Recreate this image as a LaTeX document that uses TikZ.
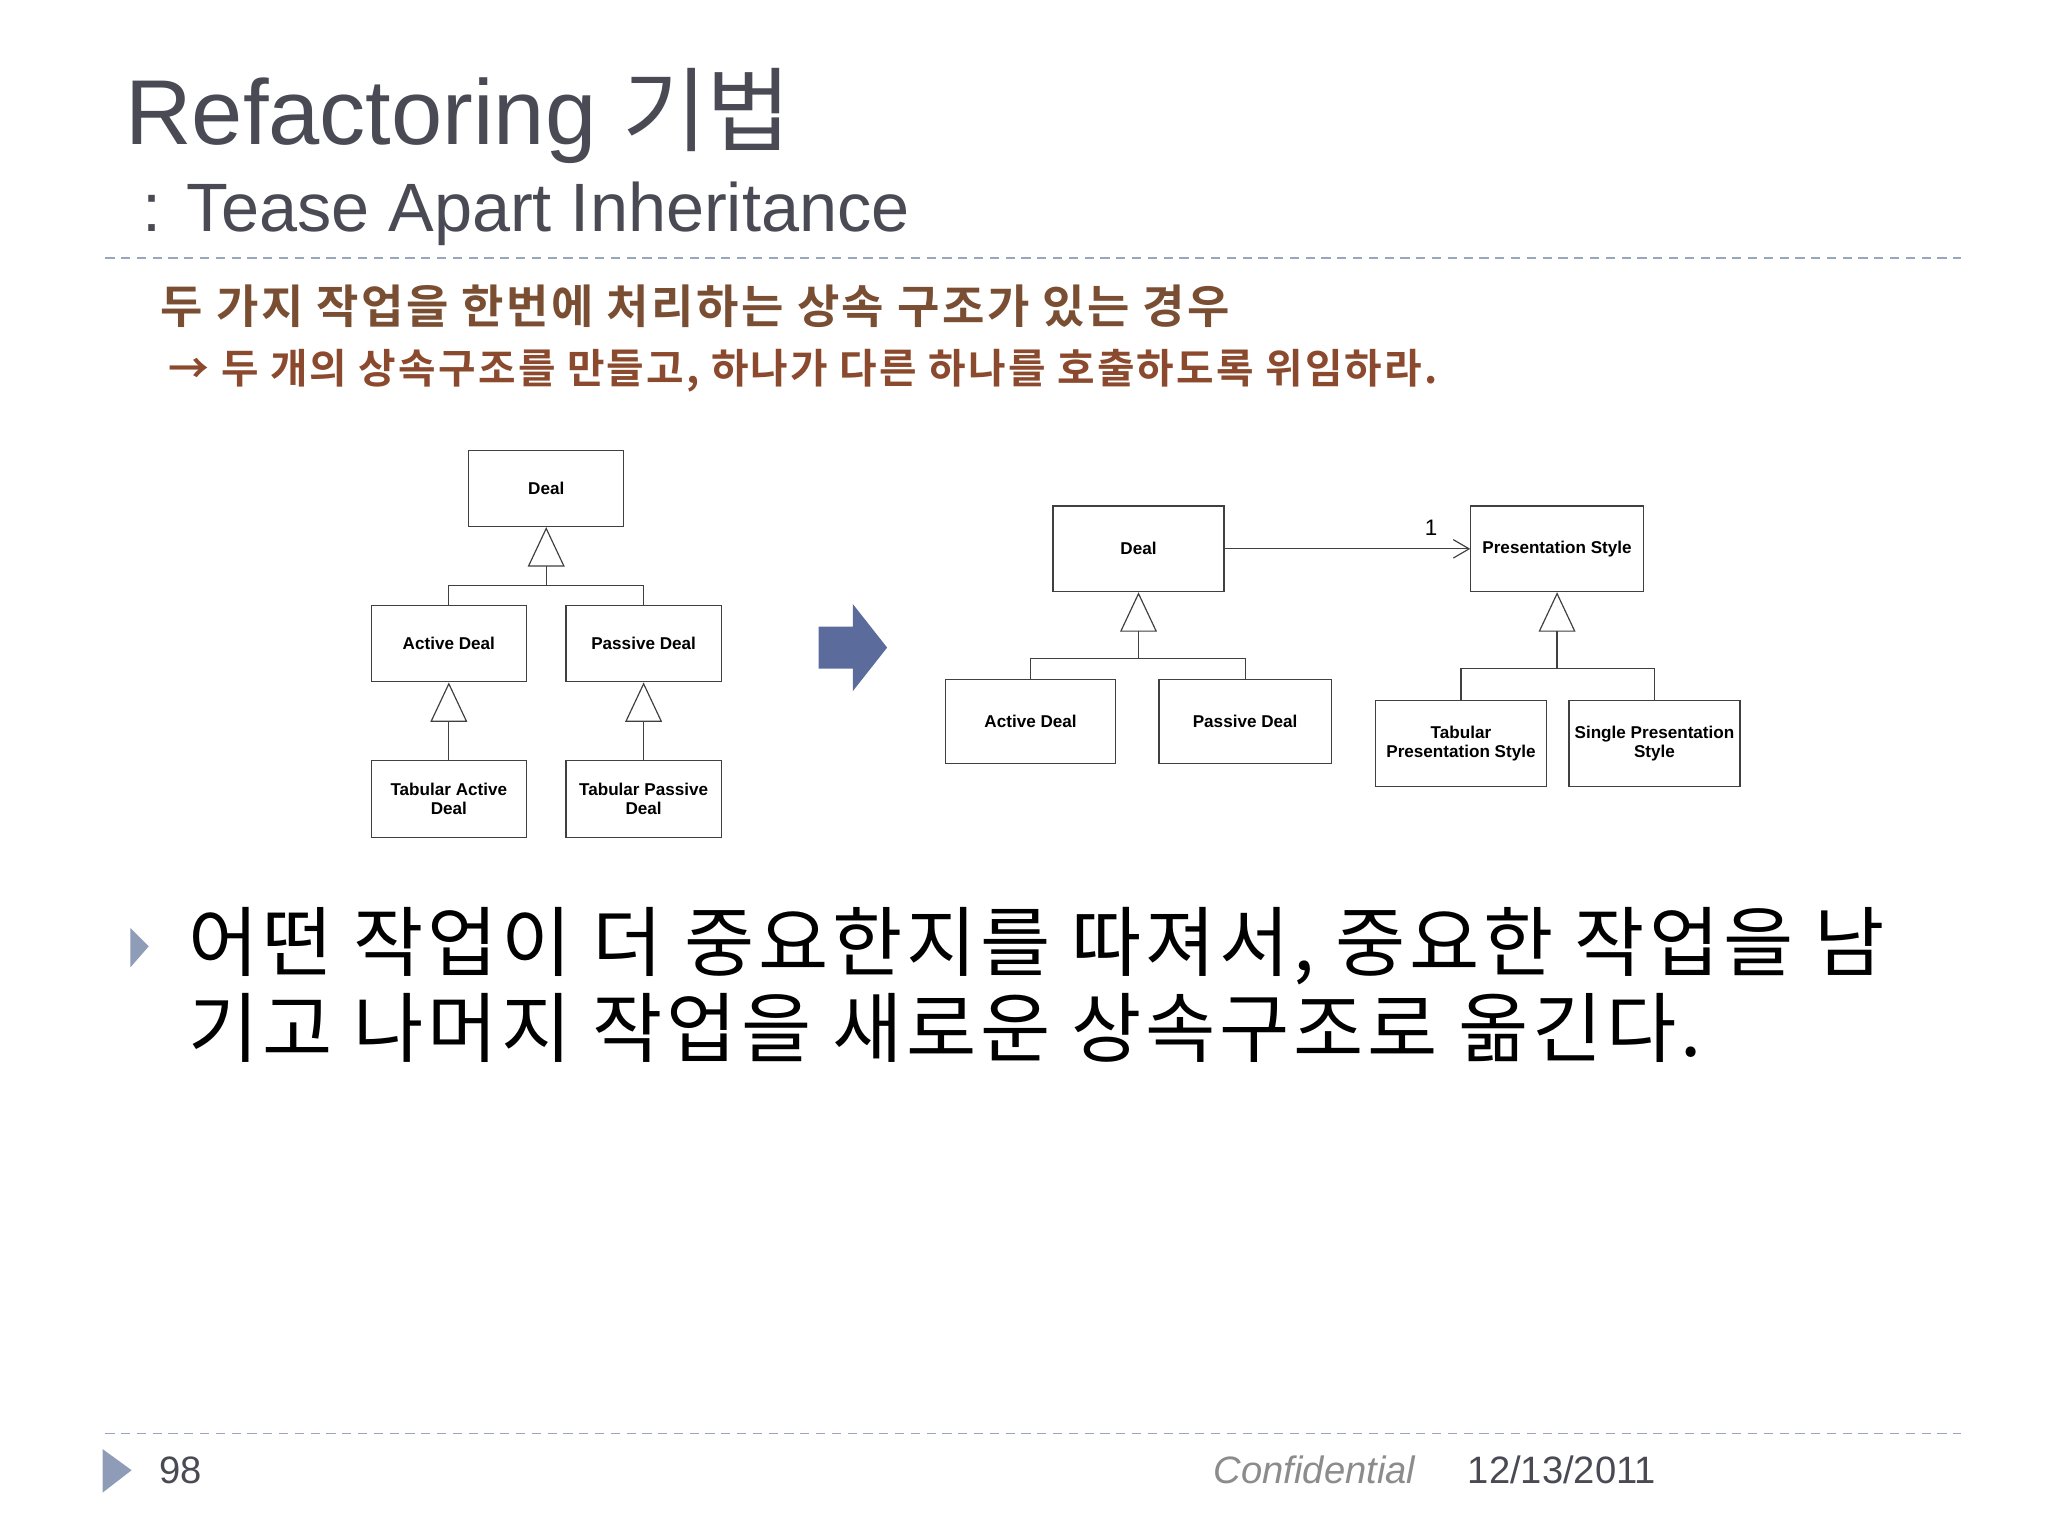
\documentclass[tikz,border=0pt]{standalone}
\usepackage{fontspec}
\setmainfont{Liberation Sans}
\newfontfamily\kr[LetterSpace=5]{Noto Sans CJK KR}
\newfontfamily\krt{Noto Sans CJK KR}
\newfontfamily\krb[LetterSpace=5.5]{Noto Sans CJK KR Bold}
\usetikzlibrary{arrows.meta}
\definecolor{ttl}{HTML}{4A4A55}
\definecolor{brn}{HTML}{7A4E33}
\definecolor{brn2}{HTML}{8B4A2E}
\definecolor{dsh}{HTML}{9AA6BC}
\definecolor{tri}{HTML}{8E9CB8}
\definecolor{barrow}{HTML}{5B6B9C}
\begin{document}
\begin{tikzpicture}[x=1pt,y=-1pt,
  cls/.style={draw=black!75,line width=0.9pt,fill=white,font=\fontsize{13}{15}\selectfont\bfseries,align=center,inner sep=0pt},
  ln/.style={draw=black!75,line width=0.9pt},
  gen/.style={ln,-{Triangle[open,length=30pt,width=28pt]}},
  dl/.style={dsh,line width=1.2pt,dash pattern=on 7pt off 5pt}]
\useasboundingbox (0,0) rectangle (1556,1167);
\fill[white] (0,0) rectangle (1556,1167);
% titles
\node[anchor=base west,inner sep=0,text=ttl,font=\fontsize{70}{72}\selectfont] (t1) at (95,110) {Refactoring {\krt 기법}};
\node[anchor=base west,inner sep=0,text=ttl,font=\fontsize{52}{54}\selectfont] (t2) at (108,176) {: Tease Apart Inheritance};
\draw[dl] (80,196) -- (1490,196);
\draw[dl] (80,1089) -- (1490,1089);
\node[anchor=base west,inner sep=0,text=brn,font=\krb\fontsize{35}{37}\selectfont] (k1) at (122,246) {두 가지 작업을 한번에 처리하는 상속 구조가 있는 경우};
\node[anchor=base west,inner sep=0,text=brn2,font=\krb\fontsize{31}{33}\selectfont] (k2) at (128,291) {→ 두 개의 상속구조를 만들고, 하나가 다른 하나를 호출하도록 위임하라.};
% left diagram
\node[cls,minimum width=118pt,minimum height=58pt] (d) at (415,371) {Deal};
\node[cls,minimum width=118pt,minimum height=58pt] (ad) at (341,489) {Active Deal};
\node[cls,minimum width=118pt,minimum height=58pt] (pd) at (489,489) {Passive Deal};
\node[cls,minimum width=118pt,minimum height=58pt] (tad) at (341,607) {Tabular Active\\Deal};
\node[cls,minimum width=118pt,minimum height=58pt] (tpd) at (489,607) {Tabular Passive\\Deal};
\coordinate (j1) at (415,445);
\draw[ln] (ad.north) |- (j1) -| (pd.north);
\draw[gen] (j1) -- (d.south);
\draw[gen] (tad.north) -- (ad.south);
\draw[gen] (tpd.north) -- (pd.south);
% big arrow
\fill[barrow] (622,476) -- (648,476) -- (648,459) -- (674,492) -- (648,525) -- (648,508) -- (622,508) -- cycle;
% right diagram
\node[cls,minimum width=130pt,minimum height=65pt] (d2) at (865,417) {Deal};
\node[cls,minimum width=131pt,minimum height=65pt] (ps) at (1183,417) {Presentation Style};
\node[cls,minimum width=129pt,minimum height=64pt] (ad2) at (783,548) {Active Deal};
\node[cls,minimum width=131pt,minimum height=64pt] (pd2) at (946,548) {Passive Deal};
\node[cls,minimum width=130pt,minimum height=65pt] (tps) at (1110,565) {Tabular\\Presentation Style};
\node[cls,minimum width=130pt,minimum height=65pt] (sps) at (1257,565) {Single Presentation\\Style};
\draw[ln,-{Straight Barb[length=12pt,width=14pt]}] (d2) -- (ps) node[pos=0.84,above=6pt,font=\fontsize{17}{19}\selectfont] (one) {1};
\coordinate (j2) at (865,500);
\coordinate (j3) at (1183,508);
\draw[ln] (ad2.north) |- (j2) -| (pd2.north);
\draw[gen] (j2) -- (d2.south);
\draw[ln] (tps.north) |- (j3) -| (sps.north);
\draw[gen] (j3) -- (ps.south);
% bullet text
\fill[tri] (99,705) -- (113,719) -- (99,735) -- cycle;
\node[anchor=base west,inner sep=0,font=\kr\fontsize{58}{60}\selectfont] (b1) at (143,737) {어떤 작업이 더 중요한지를 따져서, 중요한 작업을 남};
\node[anchor=base west,inner sep=0,font=\kr\fontsize{58}{60}\selectfont] (b2) at (143,803) {기고 나머지 작업을 새로운 상속구조로 옮긴다.};
% footer
\fill[tri] (78,1101) -- (100,1117) -- (78,1134) -- cycle;
\node[anchor=base west,inner sep=0,text=ttl,font=\fontsize{29}{31}\selectfont] (pg) at (121,1127) {98};
\node[anchor=base west,inner sep=0,text=black!45,font=\fontsize{29}{31}\selectfont\itshape] (cf) at (922,1127) {Confidential};
\node[anchor=base west,inner sep=0,text=ttl,font=\fontsize{29}{31}\selectfont] (dt) at (1115,1127) {12/13/2011};
\end{tikzpicture}
\end{document}
